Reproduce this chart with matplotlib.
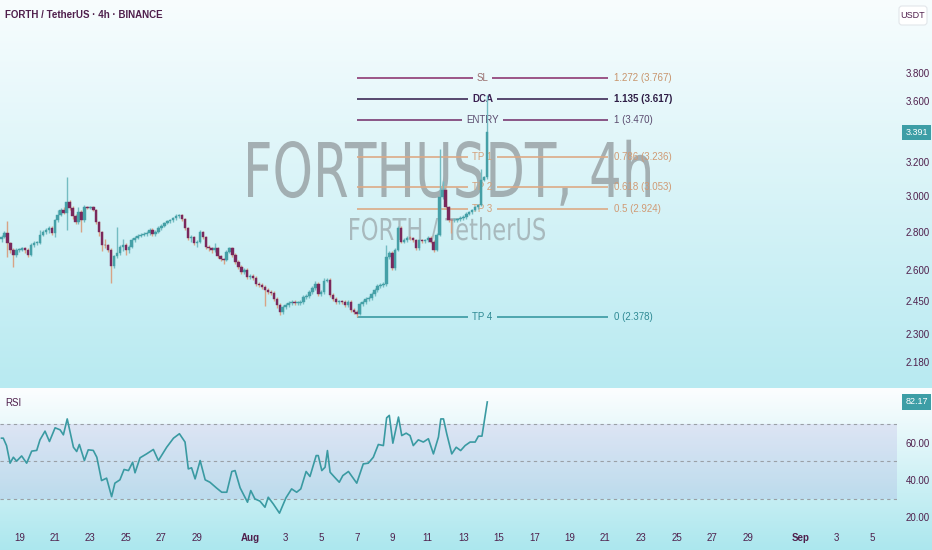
import numpy as np
import matplotlib
matplotlib.use("Agg")
import matplotlib.pyplot as plt
from matplotlib import font_manager as fm
from matplotlib.textpath import TextPath
from matplotlib.patches import PathPatch, FancyBboxPatch
from matplotlib.font_manager import FontProperties
from matplotlib.transforms import Affine2D
from matplotlib.ticker import NullLocator, NullFormatter

# ---------------- data ----------------
first_open = 2.760
closes = [
    2.772, 2.794, 2.740, 2.704, 2.678, 2.704, 2.704, 2.714, 2.704, 2.678,
    2.730, 2.740, 2.742, 2.783, 2.799, 2.810, 2.821, 2.794, 2.864, 2.892,
    2.920, 2.903, 2.965, 2.931, 2.886, 2.853, 2.909, 2.864, 2.937, 2.931,
    2.937, 2.920, 2.853, 2.799, 2.730, 2.728, 2.704, 2.622, 2.673, 2.688,
    2.720, 2.730, 2.704, 2.720, 2.756, 2.767, 2.778, 2.783, 2.789, 2.794,
    2.810, 2.789, 2.799, 2.821, 2.832, 2.848, 2.859, 2.864, 2.875, 2.886,
    2.892, 2.869, 2.821, 2.767, 2.772, 2.740, 2.746, 2.799, 2.772, 2.720,
    2.714, 2.704, 2.714, 2.673, 2.657, 2.652, 2.694, 2.714, 2.678, 2.642,
    2.617, 2.592, 2.602, 2.567, 2.572, 2.563, 2.533, 2.528, 2.518, 2.504,
    2.494, 2.489, 2.461, 2.432, 2.400, 2.423, 2.432, 2.441, 2.446, 2.441,
    2.443, 2.446, 2.470, 2.475, 2.494, 2.514, 2.533, 2.485, 2.494, 2.548,
    2.553, 2.480, 2.461, 2.446, 2.448, 2.446, 2.432, 2.446, 2.409, 2.400,
    2.392, 2.437, 2.446, 2.461, 2.465, 2.485, 2.504, 2.523, 2.528, 2.533,
    2.668, 2.688, 2.612, 2.704, 2.821, 2.746, 2.756, 2.767, 2.765, 2.756,
    2.714, 2.756, 2.751, 2.756, 2.767, 2.746, 2.704, 2.783, 2.994, 3.034,
    2.937, 2.864, 2.862, 2.866, 2.869, 2.875, 2.881, 2.898, 2.909, 2.920,
    2.937, 2.948, 3.093, 3.111, 3.391,
]
highs = [
    2.785, 2.805, 2.859, 2.748, 2.712, 2.712, 2.715, 2.722, 2.722, 2.712,
    2.738, 2.750, 2.752, 2.810, 2.808, 2.818, 2.830, 2.830, 2.872, 2.920,
    2.930, 2.935, 3.111, 2.975, 2.940, 2.895, 2.935, 2.918, 2.950, 2.945,
    2.945, 2.945, 2.928, 2.860, 2.805, 2.760, 2.735, 2.712, 2.680, 2.826,
    2.728, 2.760, 2.738, 2.730, 2.765, 2.775, 2.786, 2.792, 2.797, 2.805,
    2.818, 2.818, 2.808, 2.830, 2.840, 2.856, 2.866, 2.872, 2.883, 2.895,
    2.900, 2.900, 2.876, 2.828, 2.785, 2.780, 2.755, 2.808, 2.806, 2.780,
    2.730, 2.722, 2.740, 2.722, 2.680, 2.665, 2.702, 2.722, 2.722, 2.686,
    2.650, 2.625, 2.612, 2.610, 2.582, 2.580, 2.571, 2.541, 2.536, 2.526,
    2.512, 2.502, 2.497, 2.470, 2.440, 2.432, 2.442, 2.450, 2.455, 2.455,
    2.452, 2.455, 2.478, 2.485, 2.503, 2.522, 2.545, 2.541, 2.503, 2.563,
    2.563, 2.561, 2.488, 2.470, 2.458, 2.457, 2.454, 2.455, 2.454, 2.417,
    2.408, 2.446, 2.456, 2.470, 2.474, 2.494, 2.512, 2.532, 2.536, 2.541,
    2.730, 2.700, 2.696, 2.712, 2.830, 2.830, 2.765, 2.775, 2.775, 2.773,
    2.764, 2.764, 2.764, 2.764, 2.775, 2.775, 2.754, 2.792, 3.281, 3.090,
    3.042, 2.945, 2.872, 2.875, 2.878, 2.884, 2.890, 2.906, 2.917, 2.928,
    2.945, 2.956, 3.160, 3.120, 3.640,
]
lows = [
    2.745, 2.765, 2.668, 2.690, 2.617, 2.668, 2.695, 2.698, 2.690, 2.670,
    2.672, 2.722, 2.732, 2.735, 2.775, 2.790, 2.795, 2.785, 2.770, 2.855,
    2.885, 2.895, 2.810, 2.920, 2.870, 2.840, 2.845, 2.800, 2.855, 2.925,
    2.925, 2.912, 2.840, 2.780, 2.700, 2.715, 2.695, 2.538, 2.612, 2.665,
    2.680, 2.700, 2.680, 2.690, 2.712, 2.748, 2.760, 2.770, 2.775, 2.780,
    2.785, 2.780, 2.780, 2.792, 2.812, 2.825, 2.840, 2.850, 2.856, 2.866,
    2.878, 2.860, 2.810, 2.755, 2.745, 2.730, 2.720, 2.738, 2.762, 2.710,
    2.700, 2.690, 2.695, 2.660, 2.645, 2.630, 2.645, 2.686, 2.668, 2.630,
    2.605, 2.580, 2.584, 2.555, 2.558, 2.552, 2.522, 2.518, 2.508, 2.430,
    2.486, 2.480, 2.452, 2.420, 2.386, 2.392, 2.415, 2.425, 2.433, 2.432,
    2.432, 2.434, 2.438, 2.460, 2.467, 2.486, 2.505, 2.475, 2.477, 2.486,
    2.540, 2.470, 2.452, 2.437, 2.438, 2.437, 2.424, 2.424, 2.400, 2.390,
    2.378, 2.385, 2.428, 2.438, 2.452, 2.457, 2.477, 2.496, 2.515, 2.520,
    2.525, 2.655, 2.600, 2.604, 2.696, 2.738, 2.738, 2.748, 2.755, 2.748,
    2.705, 2.706, 2.742, 2.743, 2.748, 2.738, 2.695, 2.696, 2.775, 2.985,
    2.925, 2.852, 2.794, 2.852, 2.856, 2.860, 2.866, 2.872, 2.890, 2.900,
    2.912, 2.928, 2.940, 3.085, 3.100,
]
opens = [first_open] + closes[:-1]

# RSI readings: position in 4h-candle units, value
rsi_pos = [0, 0.6, 1.7, 2.9, 4.0, 5.1, 6.8, 8.5, 10.2, 11.9, 13.0, 14.7, 16.2, 18.1,
           19.8, 20.9, 22.2, 24.3, 25.4, 26.3, 28.0, 29.3, 31.0, 32.2, 33.8, 35.5,
           37.2, 38.3, 40.0, 41.4, 42.9, 44.3, 45.1, 46.8, 49.0, 51.3, 53.0, 55.8,
           58.1, 60.1, 62.0, 63.1, 64.2, 65.4, 67.1, 68.8, 70.4, 72.7, 74.4, 76.1,
           77.8, 78.9, 80.6, 83.1, 84.2, 85.6, 87.3, 89.0, 90.1, 91.8, 93.9, 96.1,
           98.0, 99.7, 101.1, 102.9, 104.2, 106.3, 107.0, 108.2, 109.3, 110.1, 111.0,
           112.7, 114.1, 115.3, 117.2, 120.0, 122.2, 123.9, 125.6, 127.3, 129.0,
           130.1, 131.0, 132.2, 134.1, 135.2, 136.7, 138.0, 139.1, 140.8, 142.5,
           144.2, 145.9, 147.6, 148.4, 149.3, 150.4, 152.1, 153.6, 155.1, 156.6,
           158.3, 160.0, 161.1, 162.3, 164.1]
rsi_val = [62.6, 62.6, 58.6, 49.1, 52.3, 50.2, 53.0, 49.1, 55.6, 56.0, 61.7, 66.4, 60.8,
           68.2, 67.1, 64.4, 73.0, 57.7, 55.4, 59.2, 50.5, 56.3, 56.0, 52.3, 39.7, 41.0,
           31.0, 38.3, 40.1, 45.7, 45.1, 49.6, 43.9, 52.0, 54.1, 56.5, 50.5, 57.7, 62.6,
           65.0, 60.5, 46.0, 46.6, 40.6, 50.5, 40.1, 38.8, 35.6, 33.4, 33.4, 44.6, 45.1,
           35.8, 28.0, 34.3, 29.8, 28.6, 25.3, 30.7, 27.1, 22.1, 30.4, 35.2, 33.4, 35.2,
           44.6, 41.9, 53.2, 53.2, 45.1, 46.9, 55.9, 44.2, 41.2, 38.8, 42.4, 44.6, 38.3,
           48.7, 49.1, 52.3, 59.2, 58.6, 73.6, 74.9, 59.9, 74.0, 64.0, 65.3, 64.0, 58.6,
           61.7, 60.5, 62.3, 54.1, 63.2, 73.0, 73.0, 65.0, 54.1, 57.7, 55.9, 58.6, 60.5,
           60.5, 63.7, 63.7, 82.17]

fib_labels = ["SL", "DCA", "ENTRY", "TP 1", "TP 2", "TP 3", "TP 4"]
fib_ratios = ["1.272", "1.135", "1", "0.786", "0.618", "0.5", "0"]
fib_prices = [3.767, 3.617, 3.470, 3.236, 3.053, 2.924, 2.378]
fib_start = 120
fib_end = 205

price_ticks = [3.8, 3.6, 3.2, 3.0, 2.8, 2.6, 2.45, 2.3, 2.18]
price_tick_labels = ["3.800", "3.600", "3.200", "3.000", "2.800", "2.600", "2.450", "2.300", "2.180"]
rsi_ticks = [60, 40, 20]
rsi_tick_labels = ["60.00", "40.00", "20.00"]
date_labels = ["19", "21", "23", "25", "27", "29", "Aug", "3", "5", "7", "9", "11", "13",
               "15", "17", "19", "21", "23", "25", "27", "29", "Sep", "3", "5"]
date_day_offsets = [1, 3, 5, 7, 9, 11, 14, 16, 18, 20, 22, 24, 26, 28, 30, 32, 34, 36,
                    38, 40, 42, 45, 47, 49]
candles_per_day = 6
last_price = 3.391
last_rsi = 82.17

# ---------------- style ----------------
W, H = 932, 550
TXT = "#4f1f4c"
UP, DN = "#45a0a7", "#7a285c"
UPW, DNW = "#74bcc2", "#d8a385"
TEAL = "#3d9ea6"

def pick_font(names):
    for n in names:
        try:
            fm.findfont(FontProperties(family=n), fallback_to_default=False)
            return n
        except Exception:
            pass
    return "DejaVu Sans"

UIFONT = pick_font(["Liberation Sans Narrow", "Liberation Sans", "DejaVu Sans"])
plt.rcParams["font.family"] = [UIFONT, "DejaVu Sans"]

fig = plt.figure(figsize=(W / 100, H / 100), dpi=100)

# background axes (pixel coordinates, y down)
bg = fig.add_axes([0, 0, 1, 1], zorder=-5)
bg.set_xlim(0, W)
bg.set_ylim(H, 0)
bg.axis("off")
grad = np.zeros((H, 1, 3))
top1, bot1 = np.array([248, 253, 254]), np.array([184, 234, 241])
top2, bot2 = np.array([252, 254, 255]), np.array([172, 231, 238])
for r in range(H):
    if r < 388:
        f = r / 387
        grad[r, 0] = (top1 * (1 - f) + bot1 * f) / 255
    else:
        f = (r - 388) / (H - 389)
        grad[r, 0] = (top2 * (1 - f) + bot2 * f) / 255
bg.imshow(grad, extent=(0, W, H, 0), aspect="auto", interpolation="bilinear")

# watermark
def watermark(s, x0, x1, ycap, ybase, alpha):
    fp = FontProperties(family="DejaVu Sans")
    tp = TextPath((0, 0), s, size=100, prop=fp)
    ext = tp.get_extents()
    cap = TextPath((0, 0), "H", size=100, prop=fp).get_extents().y1
    sx = (x1 - x0) / ext.width
    sy = (ybase - ycap) / cap
    tr = Affine2D().translate(-ext.x0, 0).scale(sx, -sy).translate(x0, ybase)
    bg.add_patch(PathPatch(tr.transform_path(tp), fc="#8e9598", ec="none", alpha=alpha))

watermark("FORTHUSDT, 4h", 248, 650, 142, 197, 0.72)
watermark("FORTH / TetherUS", 350, 545, 218, 240, 0.6)

# USDT box
bg.add_patch(FancyBboxPatch((899, 6), 28, 19, boxstyle="round,pad=0,rounding_size=3",
                            fc="white", ec="#e2e6ea", lw=0.8))
bg.text(913, 15.5, "USDT", ha="center", va="center", fontsize=6.5, color=TXT)

# main axes
ax = fig.add_axes([0, 1 - 387 / H, 897 / W, 387 / H], facecolor="none")
ax.set_yscale("log")
ax.set_ylim(2.0775, 4.373)
xl = (-0.507, 302.5)
ax.set_xlim(*xl)
for s in ax.spines.values():
    s.set_visible(False)
ax.set_xticks([])
ax.yaxis.tick_right()
ax.yaxis.set_minor_locator(NullLocator())
ax.yaxis.set_minor_formatter(NullFormatter())
ax.set_yticks(price_ticks)
ax.set_yticklabels(price_tick_labels)
ax.tick_params(axis="y", length=0, pad=6, labelsize=7, labelcolor=TXT)

# fib levels
fib_line_c = ["#8e3a73", "#3d2a55", "#7a3a72", "#dcaa86", "#dcaa86", "#dcaa86", "#3a9aa2"]
fib_mid_c = ["#9a7070", "#3a1f50", "#5a4a6e", "#d4a07a", "#d4a07a", "#d4a07a", "#2f8a94"]
fib_right_c = ["#c8946c", "#2e1d45", "#5a4a6e", "#d09a74", "#d09a74", "#d09a74", "#2f8a94"]
mid_x = (fib_start + fib_end) / 2
fig.canvas.draw()
ren = fig.canvas.get_renderer()
inv = ax.transData.inverted()
for lab, rat, pr, lc, mc, rc in zip(fib_labels, fib_ratios, fib_prices, fib_line_c, fib_mid_c, fib_right_c):
    t = ax.text(mid_x, pr, lab, ha="center", va="center", fontsize=7, color=mc, zorder=3,
                fontweight="bold" if lab == "DCA" else "normal")
    bb = t.get_window_extent(ren)
    xa = inv.transform((bb.x0 - 4, 0))[0]
    xb = inv.transform((bb.x1 + 4, 0))[0]
    ax.hlines(pr, fib_start, xa, color=lc, lw=1.2, zorder=2)
    ax.hlines(pr, xb, fib_end, color=lc, lw=1.2, zorder=2)
    ax.text(fib_end + 2, pr, f"{rat} ({pr:.3f})", ha="left", va="center", fontsize=7,
            color=rc, zorder=3, fontweight="bold" if lab == "DCA" else "normal")

# candles
idx = np.arange(len(closes))
o = np.array(opens)
c = np.array(closes)
h = np.array(highs)
l = np.array(lows)
up = c >= o
wcol = np.where(up, UPW, DNW)
ax.vlines(idx, l, h, colors=wcol, lw=1.0, zorder=4)
bcol = np.where(up, UP, DN)
bot = np.minimum(o, c)
top = np.maximum(o, c)
hgt = np.maximum(top - bot, 0.004)
ax.bar(idx, hgt, bottom=bot, width=0.85, color=bcol, edgecolor=bcol, lw=0.3, zorder=5)

ax.annotate(f"{last_price:.3f}", xy=(1.0, last_price), xycoords=("axes fraction", "data"),
            xytext=(6, 0), textcoords="offset points", ha="left", va="center",
            fontsize=6.5, color="white", annotation_clip=False,
            bbox=dict(boxstyle="square,pad=0.35", fc=TEAL, ec="none"))

# header text
fig.text(5 / W, 1 - 15 / H, "FORTH / TetherUS · 4h · BINANCE", ha="left", va="center",
         fontsize=7, color=TXT, fontweight="bold")

# RSI axes
rx = fig.add_axes([0, 1 - 525 / H, 897 / W, 137 / H], facecolor="none")
rx.set_xlim(*xl)
rx.set_ylim(15.7, 89.7)
for s in rx.spines.values():
    s.set_visible(False)
rx.axhspan(30, 70, color="#7E57C2", alpha=0.12, lw=0, zorder=1)
for lv in (70, 50, 30):
    rx.axhline(lv, color="#9aa0a6", lw=0.8, ls=(0, (3, 3)), zorder=2)
rx.plot(rsi_pos, rsi_val, color="#3a9aa2", lw=1.2, zorder=3)
rx.yaxis.tick_right()
rx.set_yticks(rsi_ticks)
rx.set_yticklabels(rsi_tick_labels)
rx.tick_params(axis="y", length=0, pad=6, labelsize=7, labelcolor=TXT)
rx.set_xticks([d * candles_per_day for d in date_day_offsets])
rx.set_xticklabels(date_labels)
rx.tick_params(axis="x", length=0, pad=6, labelsize=7, labelcolor=TXT)
for tl in rx.get_xticklabels():
    if tl.get_text() in ("Aug", "Sep"):
        tl.set_fontweight("bold")
rx.text(5 / 897, 1 - 15 / 137, "RSI", transform=rx.transAxes, ha="left", va="center",
        fontsize=7, color=TXT)
rx.annotate(f"{last_rsi:.2f}", xy=(1.0, last_rsi), xycoords=("axes fraction", "data"),
            xytext=(6, 0), textcoords="offset points", ha="left", va="center",
            fontsize=6.5, color="white", annotation_clip=False,
            bbox=dict(boxstyle="square,pad=0.35", fc=TEAL, ec="none"))

fig.savefig("out.png", dpi=100)
